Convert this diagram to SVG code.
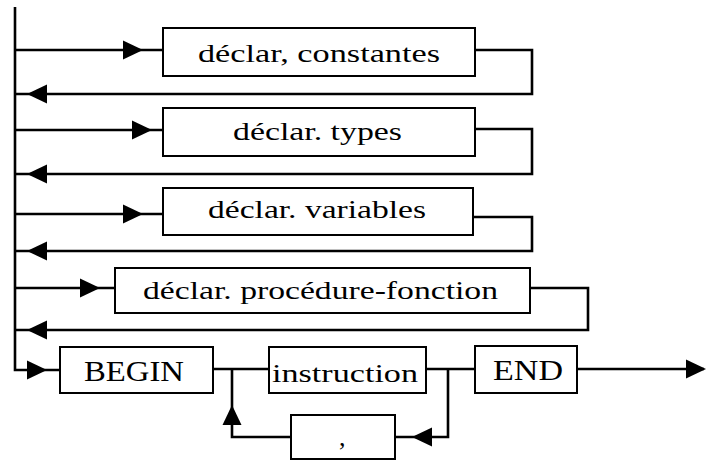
<svg xmlns="http://www.w3.org/2000/svg" width="706" height="461" viewBox="0 0 706 461">
<style>
.box{fill:#fff;stroke:#000;stroke-width:2}
.ln{fill:none;stroke:#000;stroke-width:2.6;stroke-linejoin:miter}
.t{font-family:"Liberation Serif","Times New Roman",serif;font-size:26px;fill:#000}
.tb{font-family:"Liberation Serif","Times New Roman",serif;font-size:29px;fill:#000}
</style>
<defs>
<path id="ah" d="M0,0 L-20,-9.5 L-20,9.5 Z" fill="#000"/>
</defs>
<rect width="706" height="461" fill="#fff"/>
<g id="connectors">
<path class="ln" d="M15,7 V370 H60"/>
<path class="ln" d="M15,50 H163"/>
<path class="ln" d="M475,50 H532 V94 H15"/>
<path class="ln" d="M15,130 H163"/>
<path class="ln" d="M475,129 H532 V174 H15"/>
<path class="ln" d="M15,214 H163"/>
<path class="ln" d="M473,217 H532 V251 H15"/>
<path class="ln" d="M15,288 H115"/>
<path class="ln" d="M530,288 H588 V330 H15"/>
<path class="ln" d="M213,369 H269"/>
<path class="ln" d="M426,369 H475"/>
<path class="ln" d="M577,369 H704"/>
<path class="ln" d="M448,369 V437 H395"/>
<path class="ln" d="M291,437 H232 V369"/>
<use href="#ah" transform="translate(143,50)"/>
<use href="#ah" transform="translate(152,130)"/>
<use href="#ah" transform="translate(143,214)"/>
<use href="#ah" transform="translate(100,288)"/>
<use href="#ah" transform="translate(47,370)"/>
<use href="#ah" transform="translate(27,94) rotate(180)"/>
<use href="#ah" transform="translate(27,174) rotate(180)"/>
<use href="#ah" transform="translate(27,251) rotate(180)"/>
<use href="#ah" transform="translate(27,330) rotate(180)"/>
<use href="#ah" transform="translate(706,369)"/>
<use href="#ah" transform="translate(412,437) rotate(180)"/>
<use href="#ah" transform="translate(232,405) rotate(-90)"/>
</g>
<g id="n-constantes">
<rect class="box" x="163" y="28" width="312" height="48"/>
<text class="t" x="198" y="62" textLength="242" lengthAdjust="spacingAndGlyphs">déclar, constantes</text>
</g>
<g id="n-types">
<rect class="box" x="163" y="108" width="312" height="48"/>
<text class="t" x="233" y="140" textLength="169" lengthAdjust="spacingAndGlyphs">déclar. types</text>
</g>
<g id="n-variables">
<rect class="box" x="163" y="188" width="310" height="47"/>
<text class="t" x="208" y="218" textLength="218" lengthAdjust="spacingAndGlyphs">déclar. variables</text>
</g>
<g id="n-procfonc">
<rect class="box" x="115" y="268" width="415" height="45"/>
<text class="t" x="143" y="299" textLength="355" lengthAdjust="spacingAndGlyphs">déclar. procédure-fonction</text>
</g>
<g id="n-begin">
<rect class="box" x="60" y="347" width="153" height="46"/>
<text class="tb" x="84" y="381" textLength="100" lengthAdjust="spacingAndGlyphs">BEGIN</text>
</g>
<g id="n-instruction">
<rect class="box" x="269" y="347" width="157" height="46"/>
<text class="t" x="272" y="382" textLength="146" lengthAdjust="spacingAndGlyphs">instruction</text>
</g>
<g id="n-end">
<rect class="box" x="475" y="346" width="102" height="47"/>
<text class="tb" x="493" y="380" textLength="70" lengthAdjust="spacingAndGlyphs">END</text>
</g>
<g id="n-comma">
<rect class="box" x="291" y="415" width="104" height="44"/>
<text class="t" x="339" y="446">,</text>
</g>
</svg>
